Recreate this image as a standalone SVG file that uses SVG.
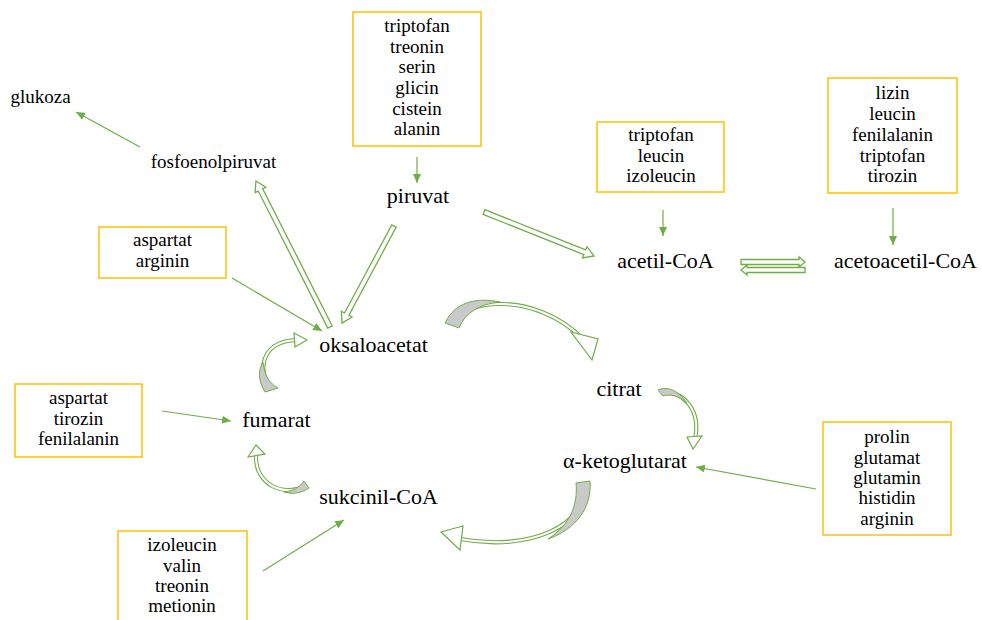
<svg xmlns="http://www.w3.org/2000/svg" width="982" height="620" viewBox="0 0 982 620">
<style>
.box{fill:#fff;stroke:#FFC000;stroke-width:1.5}
.bt{font-family:"Liberation Serif","Times New Roman",serif;font-size:19px;fill:#000;text-anchor:middle}
.nt{font-family:"Liberation Serif","Times New Roman",serif;font-size:22px;fill:#000;text-anchor:middle}
.thin{stroke:#70AD47;stroke-width:1.2;fill:none}
.hollow{fill:#fff;stroke:#70AD47;stroke-width:1.3}
.ro{fill:none;stroke:#70AD47;stroke-width:4.2}
.ri{fill:none;stroke:#fff;stroke-width:2}
.wedge{fill:#C9C9C9;stroke:#70AD47;stroke-width:1}
.head{fill:#fff;stroke:#70AD47;stroke-width:1.2}
</style>
<defs>
<marker id="ah" markerUnits="userSpaceOnUse" markerWidth="9" markerHeight="8" refX="9" refY="4" orient="auto">
<path d="M0,0 L9,4 L0,8 Z" fill="#70AD47"/>
</marker>
</defs>
<rect width="982" height="620" fill="#fff"/>

<g id="connectors">
<line class="thin" x1="140" y1="147" x2="76" y2="112" marker-end="url(#ah)"/>
<line class="thin" x1="417" y1="157" x2="417" y2="183" marker-end="url(#ah)"/>
<line class="thin" x1="232" y1="278" x2="322" y2="331" marker-end="url(#ah)"/>
<line class="thin" x1="663" y1="210" x2="663" y2="236" marker-end="url(#ah)"/>
<line class="thin" x1="893" y1="208" x2="893" y2="245" marker-end="url(#ah)"/>
<line class="thin" x1="162" y1="411" x2="231" y2="421" marker-end="url(#ah)"/>
<line class="thin" x1="816" y1="489" x2="696" y2="467" marker-end="url(#ah)"/>
<line class="thin" x1="263" y1="571" x2="344" y2="520" marker-end="url(#ah)"/>

<polygon class="hollow" transform="translate(330,327) rotate(-116.9)" points="0,-2.5 153.7,-2.5 153.7,-6 163.7,0 153.7,6 153.7,2.5 0,2.5"/>
<polygon class="hollow" transform="translate(394,226) rotate(118.2)" points="0,-2.5 100,-2.5 100,-6 110.1,0 100,6 100,2.5 0,2.5"/>
<polygon class="hollow" transform="translate(484,212) rotate(21.8)" points="0,-2.5 108.5,-2.5 108.5,-6 118.5,0 108.5,6 108.5,2.5 0,2.5"/>
<polygon class="hollow" transform="translate(741,262)" points="0,-2.5 58,-2.5 58,-5 64,0 58,5 58,2.5 0,2.5"/>
<polygon class="hollow" transform="translate(805,270) rotate(180)" points="0,-2.5 58,-2.5 58,-5 64,0 58,5 58,2.5 0,2.5"/>

<g id="arcA">
<path class="ro" d="M450 324 C465 298 535 292 582 338"/>
<path class="ri" d="M450 324 C465 298 535 292 582 338"/>
<path class="wedge" d="M445 323 C455 302 476 297 500 302 C479 304 465 313 459 328 Z"/>
<polygon class="head" points="571,332 598,339 592,360"/>
</g>
<g id="arcB">
<path class="ro" d="M661 392 C684 391 701 410 695 439"/>
<path class="ri" d="M661 392 C684 391 701 410 695 439"/>
<path class="wedge" d="M658 390 C667 386 678 390 687 403 C678 395 670 394 663 396 Z"/>
<polygon class="head" points="687,437 702,436 693,449"/>
</g>
<g id="arcC">
<path class="ro" d="M583 483 C590 525 530 552 460 539"/>
<path class="ri" d="M583 483 C590 525 530 552 460 539"/>
<path class="wedge" d="M576 483 C578 504 571 524 548 539 C576 529 592 508 590 481 Z"/>
<polygon class="head" points="463,526 460,550 441,532"/>
</g>
<g id="arcD">
<path class="ro" d="M306 485 C285 498 255 485 256 456"/>
<path class="ri" d="M306 485 C285 498 255 485 256 456"/>
<path class="wedge" d="M304 481 C299 488 293 491 284 492 C295 495 303 492 309 488 Z"/>
<polygon class="head" points="248,457 256,445 265,454"/>
</g>
<g id="arcE">
<path class="ro" d="M271 390 C255 365 265 341 297 340"/>
<path class="ri" d="M271 390 C255 365 265 341 297 340"/>
<path class="wedge" d="M265 392 C258 381 258 370 263 362 C264 375 270 384 278 388 Z"/>
<polygon class="head" points="294,333 307,340 295,347"/>
</g>
</g>

<g id="box1"><rect class="box" x="353" y="12" width="128" height="134"/>
<text class="bt" x="417" y="32">triptofan</text><text class="bt" x="417" y="52.7">treonin</text><text class="bt" x="417" y="73.3">serin</text><text class="bt" x="417" y="94">glicin</text><text class="bt" x="417" y="114.7">cistein</text><text class="bt" x="417" y="135.3">alanin</text></g>
<g id="box2"><rect class="box" x="597" y="122" width="127" height="70"/>
<text class="bt" x="661" y="141">triptofan</text><text class="bt" x="661" y="162">leucin</text><text class="bt" x="661" y="182">izoleucin</text></g>
<g id="box3"><rect class="box" x="828" y="78" width="129" height="115"/>
<text class="bt" x="892.5" y="99">lizin</text><text class="bt" x="892.5" y="120">leucin</text><text class="bt" x="892.5" y="141">fenilalanin</text><text class="bt" x="892.5" y="161.5">triptofan</text><text class="bt" x="892.5" y="182">tirozin</text></g>
<g id="box4"><rect class="box" x="99" y="227" width="127" height="51"/>
<text class="bt" x="162.5" y="246">aspartat</text><text class="bt" x="162.5" y="267">arginin</text></g>
<g id="box5"><rect class="box" x="15" y="384" width="127" height="73"/>
<text class="bt" x="78.5" y="404">aspartat</text><text class="bt" x="78.5" y="425">tirozin</text><text class="bt" x="78.5" y="445">fenilalanin</text></g>
<g id="box6"><rect class="box" x="823" y="422" width="128" height="113"/>
<text class="bt" x="887" y="443">prolin</text><text class="bt" x="887" y="463.5">glutamat</text><text class="bt" x="887" y="484">glutamin</text><text class="bt" x="887" y="504">histidin</text><text class="bt" x="887" y="524.5">arginin</text></g>
<g id="box7"><rect class="box" x="118" y="531" width="129" height="110"/>
<text class="bt" x="182" y="551">izoleucin</text><text class="bt" x="182" y="572">valin</text><text class="bt" x="182" y="592">treonin</text><text class="bt" x="182" y="612">metionin</text></g>

<g id="glukoza"><text class="bt" x="40.5" y="103">glukoza</text></g>
<g id="fosfoenolpiruvat"><text class="bt" x="213.5" y="168">fosfoenolpiruvat</text></g>
<g id="piruvat"><text class="nt" x="418" y="203">piruvat</text></g>
<g id="acetil-CoA"><text class="nt" x="665.5" y="268">acetil-CoA</text></g>
<g id="acetoacetil-CoA"><text class="nt" x="905.5" y="268">acetoacetil-CoA</text></g>
<g id="oksaloacetat"><text class="nt" x="373.5" y="352">oksaloacetat</text></g>
<g id="citrat"><text class="nt" x="619" y="396">citrat</text></g>
<g id="a-ketoglutarat"><text class="nt" x="625" y="468">α-ketoglutarat</text></g>
<g id="fumarat"><text class="nt" x="276.5" y="427">fumarat</text></g>
<g id="sukcinil-CoA"><text class="nt" x="378.5" y="504">sukcinil-CoA</text></g>
</svg>
